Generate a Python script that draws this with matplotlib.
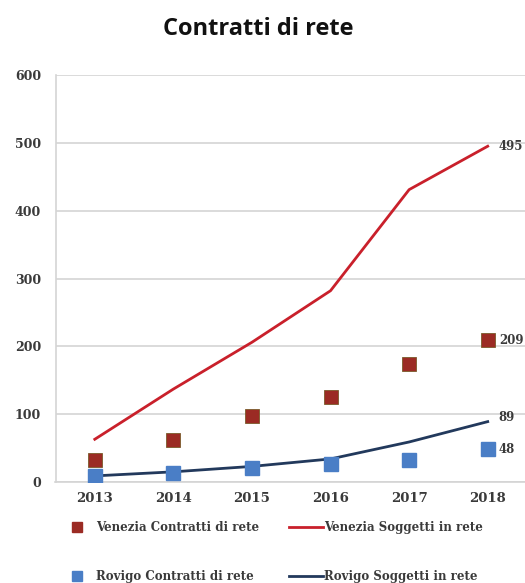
import matplotlib
matplotlib.use("Agg")
import matplotlib.pyplot as plt
from matplotlib.lines import Line2D

years = ["2013", "2014", "2015", "2016", "2017", "2018"]
venezia_contratti = [32, 62, 98, 126, 174, 209]
venezia_soggetti = [63, 137, 206, 282, 431, 495]
rovigo_contratti = [9, 14, 20, 26, 33, 48]
rovigo_soggetti = [9, 15, 23, 34, 59, 89]
yticks = [0, 100, 200, 300, 400, 500, 600]

c_vc = "#9B2B24"
c_vs = "#C9202B"
c_rc = "#4A7EC6"
c_rs = "#22395C"
grid_c = "#D4D4D4"
serif = ["DejaVu Serif"]

fig = plt.figure(figsize=(5.25, 5.83), dpi=100)
ax = fig.add_axes([55.5 / 525, 101 / 583, (527 - 55.5) / 525, 407 / 583])
x = list(range(len(years)))

ax.plot(x, venezia_soggetti, color=c_vs, lw=2.0, zorder=3)
ax.plot(x, rovigo_soggetti, color=c_rs, lw=2.0, zorder=3)
ax.plot(x, venezia_contratti, ls="none", marker="s", ms=9.5, color=c_vc,
        markeredgecolor="#7A5A2A", markeredgewidth=0.6, zorder=4)
ax.plot(x, rovigo_contratti, ls="none", marker="s", ms=9.5, color=c_rc,
        markeredgecolor=c_rc, zorder=4)

ax.set_xlim(-0.5, len(years) - 0.5)
ax.set_ylim(0, 600)
ax.set_yticks(yticks)
ax.set_xticks(x)
ax.set_xticklabels(years)
ax.yaxis.grid(True, color=grid_c, lw=1.2)
ax.set_axisbelow(True)
for s in ["top", "right"]:
    ax.spines[s].set_visible(False)
ax.spines["left"].set_color(grid_c)
ax.spines["bottom"].set_color(grid_c)
ax.spines["left"].set_linewidth(1.2)
ax.spines["bottom"].set_linewidth(1.2)
ax.tick_params(length=0)
ax.tick_params(axis="y", pad=10.5)
ax.tick_params(axis="x", pad=7)
for lab in ax.get_xticklabels():
    lab.set_fontfamily(serif)
    lab.set_fontweight("bold")
    lab.set_fontsize(9.5)
    lab.set_color("#3A3A3A")
for lab in ax.get_yticklabels():
    lab.set_fontfamily(serif)
    lab.set_fontweight("bold")
    lab.set_fontsize(9)
    lab.set_color("#3A3A3A")

last = len(years) - 1
for series, dy in [(venezia_soggetti, 0), (venezia_contratti, 0), (rovigo_soggetti, 3), (rovigo_contratti, 0)]:
    ax.annotate(str(series[last]), (last, series[last]), xytext=(8, dy),
                textcoords="offset points", va="center", ha="left",
                fontsize=8.5, fontfamily=serif, fontweight="bold", color="#3A3A3A",
                annotation_clip=False)

fig.text(258 / 525, 1 - 29 / 583, "Contratti di rete", ha="center", va="center",
         fontsize=17, fontweight="bold", fontfamily=["Open Sans", "DejaVu Sans"], color="#111111")

handles = [
    Line2D([], [], ls="none", marker="s", ms=7, color=c_vc),
    Line2D([], [], ls="none", marker="s", ms=7, color=c_rc),
    Line2D([], [], color=c_vs, lw=2),
    Line2D([], [], color=c_rs, lw=2),
]
labels = ["Venezia Contratti di rete", "Rovigo Contratti di rete",
          "Venezia Soggetti in rete", "Rovigo Soggetti in rete"]
leg = fig.legend(handles, labels, ncol=2, loc="center", bbox_to_anchor=(272 / 525, 1 - 552 / 583),
                 frameon=False, labelspacing=3.05, columnspacing=2.6, handlelength=2.8,
                 handletextpad=0.15, prop={"family": serif, "size": 8.5, "weight": "bold"})
for t in leg.get_texts():
    t.set_color("#3A3A3A")

fig.savefig("out.png", dpi=100)
